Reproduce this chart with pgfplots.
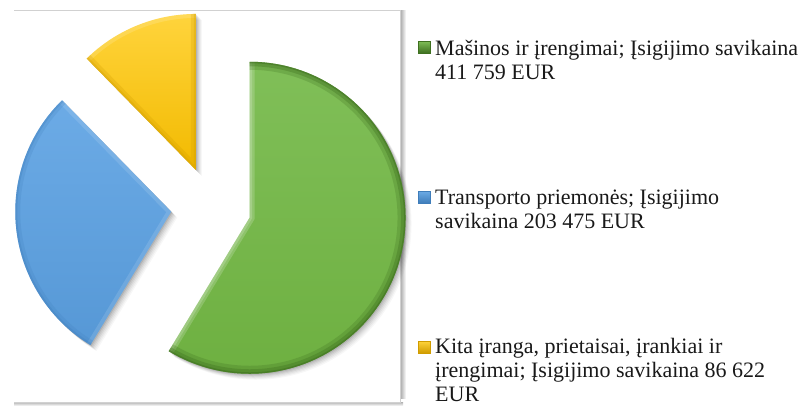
\documentclass[border=0pt]{standalone}
\usepackage{fontspec}
\setmainfont{Liberation Serif}
\usepackage{pgfplots}
\usepackage{pgfplotstable}
\pgfplotsset{compat=1.18}

\definecolor{gA}{HTML}{6EB041}\definecolor{gAl}{HTML}{80BF58}\definecolor{gAd}{HTML}{3F7020}
\definecolor{bA}{HTML}{5698D6}\definecolor{bAl}{HTML}{6CABE6}\definecolor{bAd}{HTML}{3F7DBA}
\definecolor{yA}{HTML}{F2BA00}\definecolor{yAl}{HTML}{FFD43C}\definecolor{yAd}{HTML}{D09C00}

\pgfplotstableread{
id value
1 411759
2 203475
3 86622
}\piedata

\begin{document}
\pgfplotstablegetelem{0}{value}\of\piedata\edef\va{\pgfplotsretval}%
\pgfplotstablegetelem{1}{value}\of\piedata\edef\vb{\pgfplotsretval}%
\pgfplotstablegetelem{2}{value}\of\piedata\edef\vc{\pgfplotsretval}%
\def\cx{211}\def\cy{199}\def\R{156}\def\dd{40}%
\edef\tot{\fpeval{\va+\vb+\vc}}%
\edef\aA{90}%
\edef\aB{\fpeval{90-360*\va/\tot}}%
\edef\aC{\fpeval{\aB-360*\vb/\tot}}%
\edef\aD{\fpeval{\aC-360*\vc/\tot}}%
% slice 1
\edef\mA{\fpeval{(\aA+\aB)/2}}%
\edef\pAx{\fpeval{\cx+\dd*cosd(\mA)}}\edef\pAy{\fpeval{\cy+\dd*sind(\mA)}}%
\edef\qAx{\fpeval{\pAx+\R*cosd(\aA)}}\edef\qAy{\fpeval{\pAy+\R*sind(\aA)}}%
\edef\rAx{\fpeval{\pAx+\R*cosd(\aB)}}\edef\rAy{\fpeval{\pAy+\R*sind(\aB)}}%
% slice 2
\edef\mB{\fpeval{(\aB+\aC)/2}}%
\edef\pBx{\fpeval{\cx+\dd*cosd(\mB)}}\edef\pBy{\fpeval{\cy+\dd*sind(\mB)}}%
\edef\qBx{\fpeval{\pBx+\R*cosd(\aB)}}\edef\qBy{\fpeval{\pBy+\R*sind(\aB)}}%
\edef\rBx{\fpeval{\pBx+\R*cosd(\aC)}}\edef\rBy{\fpeval{\pBy+\R*sind(\aC)}}%
% slice 3
\edef\mC{\fpeval{(\aC+\aD)/2}}%
\edef\pCx{\fpeval{\cx+\dd*cosd(\mC)}}\edef\pCy{\fpeval{\cy+\dd*sind(\mC)}}%
\edef\qCx{\fpeval{\pCx+\R*cosd(\aC)}}\edef\qCy{\fpeval{\pCy+\R*sind(\aC)}}%
\edef\rCx{\fpeval{\pCx+\R*cosd(\aD)}}\edef\rCy{\fpeval{\pCy+\R*sind(\aD)}}%
\edef\pathA{(axis cs:\pAx,\pAy) -- (axis cs:\qAx,\qAy) arc[start angle=\aA, end angle=\aB, radius=\R bp] -- cycle}%
\edef\pathB{(axis cs:\pBx,\pBy) -- (axis cs:\qBx,\qBy) arc[start angle=\aB, end angle=\aC, radius=\R bp] -- cycle}%
\edef\pathC{(axis cs:\pCx,\pCy) -- (axis cs:\qCx,\qCy) arc[start angle=\aC, end angle=\aD, radius=\R bp] -- cycle}%
\edef\arcA{(axis cs:\qAx,\qAy) arc[start angle=\aA, end angle=\aB, radius=\R bp]}%
\edef\arcB{(axis cs:\qBx,\qBy) arc[start angle=\aB, end angle=\aC, radius=\R bp]}%
\edef\arcC{(axis cs:\qCx,\qCy) arc[start angle=\aC, end angle=\aD, radius=\R bp]}%
\edef\edgA{(axis cs:\qAx,\qAy) -- (axis cs:\pAx,\pAy) -- (axis cs:\rAx,\rAy)}%
\edef\edgB{(axis cs:\qBx,\qBy) -- (axis cs:\pBx,\pBy) -- (axis cs:\rBx,\rBy)}%
\edef\edgC{(axis cs:\qCx,\qCy) -- (axis cs:\pCx,\pCy) -- (axis cs:\rCx,\rCy)}%
\newcommand\shadowlayer[2]{%
  \begin{scope}[transform canvas={shift={(#1bp,-#1bp)}}]
    \fill[black, opacity=#2] \pathA;
    \fill[black, opacity=#2] \pathB;
    \fill[black, opacity=#2] \pathC;
  \end{scope}}%
\begin{tikzpicture}
\begin{axis}[
  x=1bp, y=1bp,
  xmin=0, xmax=806, ymin=0, ymax=406,
  hide axis, clip=false,
]
\coordinate (ll) at (axis cs:0,0);
\coordinate (ur) at (axis cs:806,406);
% frame
\fill[left color=black!35, right color=white] (axis cs:400,8) rectangle (axis cs:406,395);
\fill[top color=black!30, bottom color=white] (axis cs:14,0) rectangle (axis cs:403,4);
\draw[black!18, line width=1bp] (axis cs:14,395) -- (axis cs:400,395) -- (axis cs:400,4) -- (axis cs:14,4);
% shadows
\shadowlayer{1}{0.09}
\shadowlayer{2}{0.07}
\shadowlayer{3}{0.06}
\shadowlayer{4}{0.05}
\shadowlayer{5}{0.04}
\shadowlayer{6}{0.03}
% slice A (green)
\shade[top color=gAl, bottom color=gA] \pathA;
\begin{scope}\clip \pathA;
  \draw[white, line width=10bp, opacity=0.18] \edgA;
  \draw[white, line width=5bp, opacity=0.18] \edgA;
  \draw[gAd, line width=16bp, opacity=0.25] \arcA;
  \draw[gAd, line width=9bp, opacity=0.35] \arcA;
  \draw[gAd, line width=3bp, opacity=0.5] \arcA;
\end{scope}
% slice B (blue)
\shade[top color=bAl, bottom color=bA] \pathB;
\begin{scope}\clip \pathB;
  \draw[white, line width=8bp, opacity=0.12] \edgB;
  \draw[bAd, line width=10bp, opacity=0.2] \arcB;
  \draw[bAd, line width=4bp, opacity=0.3] \arcB;
\end{scope}
% slice C (yellow)
\shade[top color=yAl, bottom color=yA] \pathC;
\begin{scope}\clip \pathC;
  \draw[white, line width=8bp, opacity=0.15] \arcC;
  \draw[yAd, line width=10bp, opacity=0.25] \edgC;
  \draw[yAd, line width=4bp, opacity=0.3] \edgC;
\end{scope}
% legend
\shade[top color=gAl, bottom color=gAd, draw=gAd, line width=0.4bp] (axis cs:418,353) rectangle (axis cs:430,365);
\shade[top color=bAl, bottom color=bAd, draw=bAd, line width=0.4bp] (axis cs:418,203) rectangle (axis cs:430,215);
\shade[top color=yAl, bottom color=yAd, draw=yAd, line width=0.4bp] (axis cs:418,53) rectangle (axis cs:430,65);
\begin{scope}[every node/.style={anchor=base west, inner sep=0pt, text=black!90, font=\fontsize{22bp}{24bp}\selectfont}]
\node at (axis cs:435,351) {Mašinos ir įrengimai; Įsigijimo savikaina};
\node at (axis cs:435,327) {411 759 EUR};
\node at (axis cs:435,202) {Transporto priemonės; Įsigijimo};
\node at (axis cs:435,178) {savikaina 203 475 EUR};
\node at (axis cs:435,53) {Kita įranga, prietaisai, įrankiai ir};
\node at (axis cs:435,29) {įrengimai; Įsigijimo savikaina 86 622};
\node at (axis cs:435,4.5) {EUR};
\end{scope}
\end{axis}
\pgfresetboundingbox
\path (ll) rectangle (ur);
\end{tikzpicture}
\end{document}
